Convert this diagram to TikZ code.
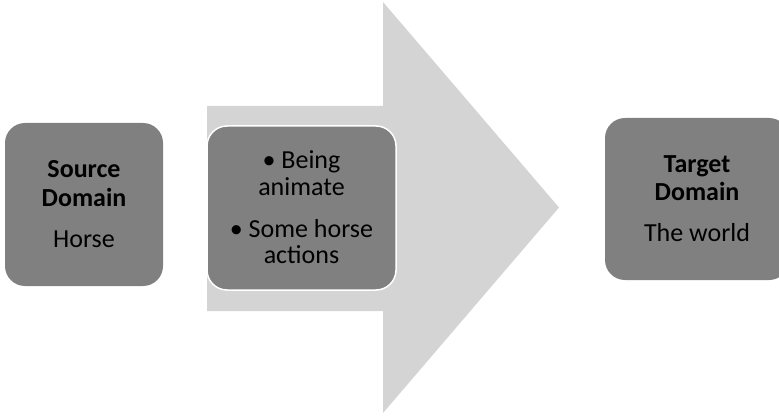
\documentclass[tikz,border=0pt]{standalone}
\usepackage{fontspec}
\setmainfont{Carlito}
\definecolor{boxgray}{RGB}{128,128,128}
\definecolor{arrowgray}{RGB}{212,212,212}
\tikzset{
  dombox/.style={draw=none, fill=boxgray, rounded corners=20pt, inner sep=0pt},
  midbox/.style={draw=white, line width=1.5pt, fill=boxgray, rounded corners=20pt, inner sep=0pt},
  txt/.style={anchor=base, inner sep=0pt, font=\fontsize{26}{28.5}\selectfont, text=black},
}
\begin{document}
\begin{tikzpicture}[x=1pt,y=-1pt]
\useasboundingbox (0,0) rectangle (779,417);
\clip (0,0) rectangle (779,417);
% big arrow
\fill[arrowgray] (207,106) -- (383,106) -- (383,2) -- (559,207.5) -- (383,413) -- (383,311) -- (207,311) -- cycle;
% boxes
\path[dombox] (5,123) rectangle (163,286);
\path[midbox] (207,126) rectangle (396,290);
\path[dombox] (605,118) rectangle (789,280);
% source text
\node[txt] (s1) at (84,178) {\bfseries Source};
\node[txt] (s2) at (84,206) {\bfseries Domain};
\node[txt] (s3) at (84,247) {Horse};
% middle text
\node[txt] (m1) at (301.5,168) {• Being};
\node[txt] (m2) at (301.5,195) {animate};
\node[txt] (m3) at (301.5,237) {• Some horse};
\node[txt] (m4) at (301.5,263) {actions};
% target text
\node[txt] (t1) at (697,172) {\bfseries Target};
\node[txt] (t2) at (697,200) {\bfseries Domain};
\node[txt] (t3) at (697,241) {The world};
\end{tikzpicture}
\end{document}
